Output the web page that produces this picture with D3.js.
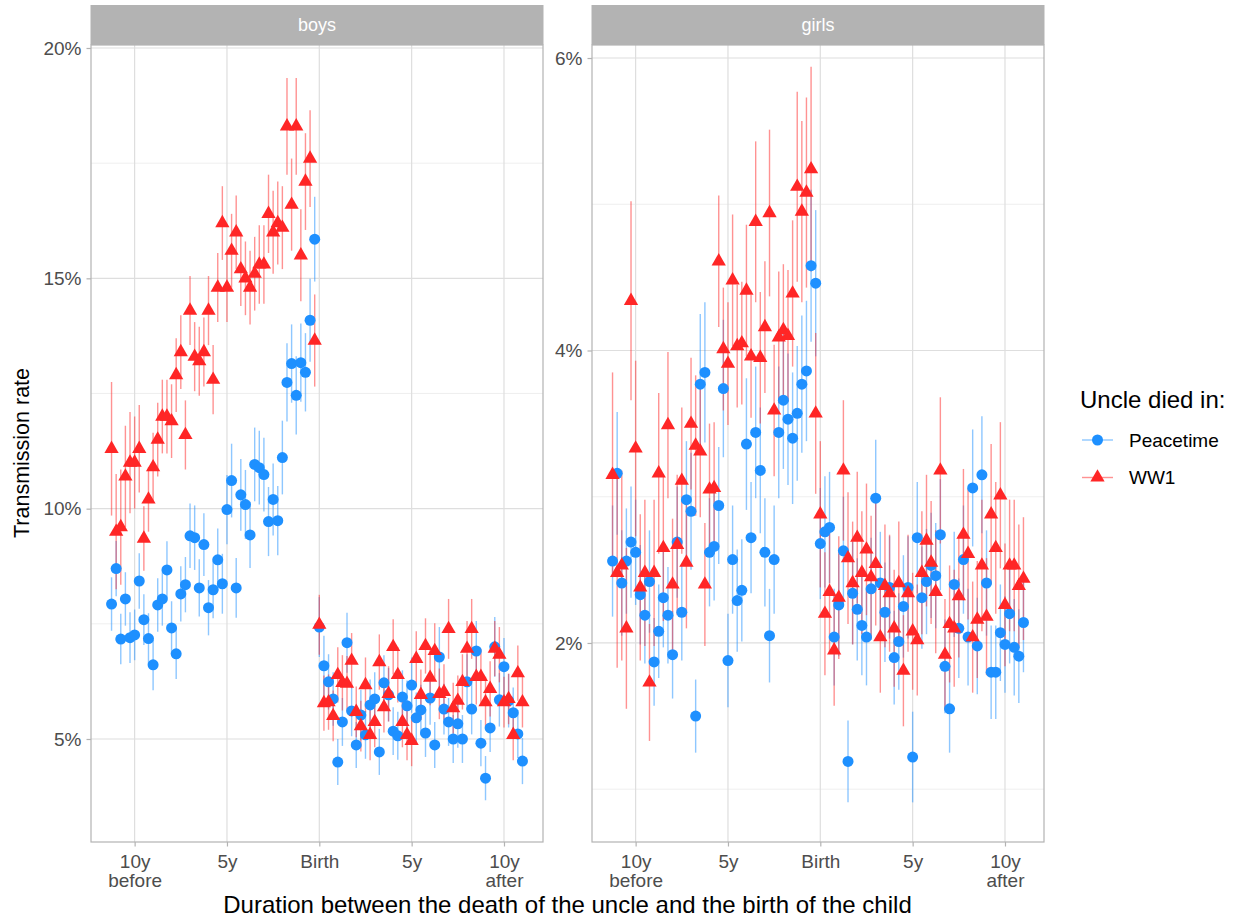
<!DOCTYPE html>
<html>
<head>
<meta charset="utf-8">
<script src="https://cdn.jsdelivr.net/npm/d3@7"></script>
<style>
  body { margin: 0; background: #fff; }
  text { font-family: "Liberation Sans", Arial, sans-serif; }
</style>
</head>
<body>
<div id="chart"></div>
<script>
// quarter offsets from birth (x in years = quarter / 4)
const quarters = d3.range(-45, 45);
const xTicks = [-10, -5, 0, 5, 10];
const xTickLabels = [["10y", "before"], ["5y"], ["Birth"], ["5y"], ["10y", "after"]];

const boysYTicks = [5, 10, 15, 20];
const boysYMinor = [7.5, 12.5, 17.5];
const girlsYTicks = [2, 4, 6];
const girlsYMinor = [1, 3, 5];

const seriesNames = ["Peacetime", "WW1"];

// transmission rate (%), 45 quarters before birth then 45 after
const boysPeace = [
  7.93, 8.70, 7.17, 8.04, 7.20, 7.26, 8.43, 7.59, 7.18, 6.61, 7.91, 8.04, 8.67, 7.41, 6.85,
  8.15, 8.35, 9.41, 9.37, 8.28, 9.22, 7.85, 8.24, 8.89, 8.37, 9.98, 10.61, 8.28, 10.3, 10.09,
  9.43, 10.96, 10.89, 10.74, 9.72, 10.2, 9.74, 11.11, 12.74, 13.15, 12.46, 13.17, 12.96, 14.09, 15.85,
  7.43, 6.59, 6.24, 5.87, 4.5, 5.37, 7.09, 5.61, 4.87, 5.52, 5.09, 5.74, 5.87, 4.72, 6.22,
  5.96, 5.17, 5.07, 5.91, 5.72, 6.17, 5.46, 5.63, 5.13, 5.89, 4.87, 6.78, 5.65, 5.37, 5.0,
  5.33, 5.0, 6.24, 5.65, 6.91, 4.91, 4.15, 5.24, 7.0, 5.85, 6.57, 5.83, 5.57, 5.11, 4.52
];
const boysPeaceErr = [
  0.58, 0.6, 0.55, 0.58, 0.55, 0.55, 0.6, 0.55, 0.55, 0.55, 0.58, 0.58, 0.62, 0.58, 0.55,
  0.6, 0.6, 0.7, 0.7, 0.62, 0.68, 0.6, 0.62, 0.68, 0.65, 0.75, 0.8, 0.65, 0.78, 0.75,
  0.72, 0.8, 0.8, 0.8, 0.75, 0.78, 0.75, 0.8, 0.85, 0.85, 0.85, 0.85, 0.85, 0.9, 0.92,
  0.65, 0.65, 0.6, 0.58, 0.5, 0.52, 0.65, 0.55, 0.5, 0.55, 0.52, 0.55, 0.58, 0.5, 0.6,
  0.58, 0.52, 0.52, 0.58, 0.55, 0.6, 0.55, 0.55, 0.52, 0.58, 0.5, 0.65, 0.55, 0.52, 0.52,
  0.52, 0.52, 0.6, 0.55, 0.65, 0.5, 0.48, 0.52, 0.65, 0.58, 0.62, 0.58, 0.55, 0.52, 0.5
];
const boysWW1 = [
  11.3, 9.5, 9.6, 10.7, 11.0, 11.0, 11.3, 9.35, 10.2, 10.9, 11.5, 12.0, 12.0, 11.9, 12.9,
  13.4, 11.6, 14.3, 13.3, 13.2, 13.4, 14.3, 12.8, 14.8, 16.2, 14.8, 15.6, 16.0, 15.2, 15.0,
  14.8, 15.1, 15.3, 15.3, 16.4, 16.0, 16.2, 16.1, 18.3, 16.6, 18.3, 15.5, 17.1, 17.6, 13.65,
  7.48, 5.78, 5.80, 5.50, 6.39, 6.22, 6.20, 6.70, 5.59, 5.28, 6.17, 5.09, 5.37, 6.67, 5.69,
  5.98, 7.0, 6.39, 5.37, 5.09, 4.96, 6.74, 5.96, 7.02, 6.33, 6.91, 5.98, 6.02, 7.39, 5.67,
  5.83, 6.24, 6.96, 7.39, 6.35, 6.35, 5.80, 6.09, 6.96, 6.83, 5.80, 5.87, 5.09, 6.43, 5.80
];
const boysWW1Err = [
  1.45, 1.25, 1.25, 1.1, 1.1, 1.0, 0.95, 0.7, 0.7, 0.75, 0.8, 0.8, 0.8, 0.8, 0.8,
  0.8, 0.75, 0.75, 0.75, 0.75, 0.75, 0.75, 0.75, 0.75, 0.8, 0.75, 0.8, 0.8, 0.8, 0.8,
  0.8, 0.8, 0.85, 0.85, 0.85, 0.9, 0.9, 0.9, 1.05, 1.0, 1.05, 1.0, 1.05, 1.05, 1.0,
  0.65, 0.6, 0.6, 0.55, 0.6, 0.6, 0.6, 0.6, 0.55, 0.55, 0.6, 0.55, 0.55, 0.6, 0.55,
  0.6, 0.6, 0.6, 0.55, 0.55, 0.55, 0.6, 0.55, 0.6, 0.6, 0.6, 0.55, 0.6, 0.65, 0.55,
  0.55, 0.6, 0.6, 0.65, 0.6, 0.6, 0.55, 0.6, 0.6, 0.6, 0.55, 0.55, 0.55, 0.6, 0.55
];

const girlsPeace = [
  2.56, 3.16, 2.41, 2.56, 2.69, 2.62, 2.33, 2.19, 2.42, 1.87, 2.08, 2.31, 2.19, 1.92, 2.69,
  2.21, 2.98, 2.90, 1.50, 3.77, 3.85, 2.62, 2.66, 2.94, 3.74, 1.88, 2.57, 2.29, 2.36, 3.36,
  2.72, 3.44, 3.18, 2.62, 2.05, 2.57, 3.44, 3.66, 3.53, 3.40, 3.57, 3.77, 3.86, 4.58, 4.46,
  2.68, 2.76, 2.79, 2.04, 2.26, 2.63, 1.19, 2.34, 2.23, 2.12, 2.04, 2.37, 2.99, 2.41, 2.21,
  2.38, 1.90, 2.01, 2.25, 2.38, 1.22, 2.72, 2.31, 2.42, 2.53, 2.46, 2.74, 1.84, 1.55, 2.40,
  2.10, 2.57, 2.04, 3.06, 1.98, 3.15, 2.41, 1.80, 1.80, 2.07, 1.99, 2.20, 1.97, 1.91, 2.14
];
const girlsPeaceErr = [
  0.38, 0.42, 0.36, 0.36, 0.38, 0.36, 0.34, 0.33, 0.35, 0.3, 0.32, 0.34, 0.33, 0.3, 0.38,
  0.33, 0.4, 0.4, 0.25, 0.48, 0.48, 0.37, 0.37, 0.4, 0.47, 0.32, 0.37, 0.35, 0.35, 0.45,
  0.38, 0.45, 0.43, 0.37, 0.32, 0.37, 0.45, 0.47, 0.45, 0.45, 0.46, 0.47, 0.48, 0.52, 0.5,
  0.38, 0.38, 0.38, 0.33, 0.35, 0.37, 0.28, 0.35, 0.35, 0.34, 0.33, 0.35, 0.4, 0.35, 0.34,
  0.35, 0.32, 0.33, 0.35, 0.35, 0.31, 0.38, 0.35, 0.36, 0.36, 0.36, 0.38, 0.32, 0.3, 0.36,
  0.34, 0.37, 0.33, 0.4, 0.33, 0.4, 0.36, 0.32, 0.32, 0.33, 0.33, 0.34, 0.33, 0.32, 0.34
];
const girlsWW1 = [
  3.15, 2.48, 2.53, 2.10, 4.34, 3.33, 2.38, 2.48, 1.73, 2.48, 3.16, 2.65, 3.49, 2.40, 2.67,
  3.11, 2.55, 3.50, 3.35, 3.31, 2.40, 3.05, 3.06, 4.61, 4.01, 3.91, 4.48, 4.03, 4.05, 4.41,
  3.96, 4.88, 3.95, 4.16, 4.94, 3.59, 4.09, 4.14, 4.10, 4.39, 5.12, 4.95, 5.08, 5.24, 3.57,
  2.88, 2.20, 2.35, 1.95, 2.31, 3.18, 2.58, 2.41, 2.72, 2.48, 2.64, 2.45, 2.54, 2.04, 2.39,
  2.34, 2.10, 2.41, 1.81, 2.34, 2.08, 2.02, 2.48, 2.70, 2.55, 2.35, 3.18, 1.92, 2.13, 2.10,
  2.32, 2.74, 2.61, 2.04, 2.16, 2.53, 2.18, 2.88, 2.65, 3.01, 2.26, 2.53, 2.53, 2.39, 2.44
];
const girlsWW1Err = [
  0.7, 0.65, 0.65, 0.55, 0.68, 0.6, 0.5, 0.5, 0.4, 0.5, 0.55, 0.5, 0.5, 0.45, 0.48,
  0.5, 0.45, 0.45, 0.48, 0.45, 0.42, 0.45, 0.45, 0.45, 0.42, 0.42, 0.45, 0.42, 0.42, 0.45,
  0.42, 0.55, 0.45, 0.45, 0.57, 0.45, 0.45, 0.45, 0.45, 0.5, 0.65, 0.62, 0.65, 0.7, 0.55,
  0.5, 0.42, 0.42, 0.38, 0.42, 0.48, 0.45, 0.42, 0.45, 0.42, 0.45, 0.42, 0.42, 0.38, 0.42,
  0.4, 0.4, 0.42, 0.38, 0.4, 0.4, 0.38, 0.42, 0.45, 0.42, 0.42, 0.5, 0.38, 0.4, 0.4,
  0.42, 0.45, 0.45, 0.38, 0.4, 0.45, 0.4, 0.48, 0.45, 0.5, 0.42, 0.45, 0.45, 0.42, 0.42
];

// layout
const width = 1238, height = 924;
const panelW = 452, panelTop = 45, panelBottom = 842, stripTop = 5;
const blue = "#1e90ff", red = "#ff2626";
const gridCol = "#dedede", borderCol = "#b3b3b3", tickTextCol = "#4d4d4d";

const facets = [
  { label: "boys", left: 91, yDomain: [2.764, 20.065], yTicks: boysYTicks, yMinor: boysYMinor,
    series: [[boysPeace, boysPeaceErr], [boysWW1, boysWW1Err]] },
  { label: "girls", left: 592, yDomain: [0.639, 6.089], yTicks: girlsYTicks, yMinor: girlsYMinor,
    series: [[girlsPeace, girlsPeaceErr], [girlsWW1, girlsWW1Err]] }
];
const colors = [blue, red];

const svg = d3.select("#chart").append("svg")
  .attr("width", width)
  .attr("height", height);

const triangle = d3.symbol(d3.symbolTriangle).size(88);

facets.forEach((f, k) => {
  const x = d3.scaleLinear()
    .domain([-12.3625, 12.1125])
    .range([f.left, f.left + panelW]);
  const y = d3.scaleLinear()
    .domain(f.yDomain)
    .range([panelBottom, panelTop]);

  svg.append("clipPath").attr("id", "clip" + k)
    .append("rect")
    .attr("x", f.left).attr("y", panelTop)
    .attr("width", panelW).attr("height", panelBottom - panelTop);

  const g = svg.append("g");
  const plot = g.append("g").attr("clip-path", `url(#clip${k})`);

  // grid
  plot.selectAll(".ymin").data(f.yMinor).join("line")
    .attr("x1", f.left).attr("x2", f.left + panelW)
    .attr("y1", d => y(d)).attr("y2", d => y(d))
    .attr("stroke", "#ebebeb").attr("stroke-width", 0.8);
  plot.selectAll(".ymaj").data(f.yTicks).join("line")
    .attr("x1", f.left).attr("x2", f.left + panelW)
    .attr("y1", d => y(d)).attr("y2", d => y(d))
    .attr("stroke", gridCol).attr("stroke-width", 1.2);
  plot.selectAll(".xmaj").data(xTicks).join("line")
    .attr("x1", d => x(d)).attr("x2", d => x(d))
    .attr("y1", panelTop).attr("y2", panelBottom)
    .attr("stroke", gridCol).attr("stroke-width", 1.2);

  // error bars
  f.series.forEach(([vals, errs], s) => {
    plot.append("g").selectAll("line").data(quarters).join("line")
      .attr("x1", (q) => x(q / 4)).attr("x2", (q) => x(q / 4))
      .attr("y1", (q, i) => y(vals[i] - errs[i]))
      .attr("y2", (q, i) => y(vals[i] + errs[i]))
      .attr("stroke", colors[s])
      .attr("stroke-opacity", 0.5)
      .attr("stroke-width", 1.4);
  });

  // points
  plot.append("g").selectAll("circle").data(quarters).join("circle")
    .attr("cx", q => x(q / 4))
    .attr("cy", (q, i) => y(f.series[0][0][i]))
    .attr("r", 5.5)
    .attr("fill", blue);
  plot.append("g").selectAll("path").data(quarters).join("path")
    .attr("d", triangle)
    .attr("transform", (q, i) => `translate(${x(q / 4)},${y(f.series[1][0][i])})`)
    .attr("fill", red);

  // panel border
  g.append("rect")
    .attr("x", f.left).attr("y", panelTop)
    .attr("width", panelW).attr("height", panelBottom - panelTop)
    .attr("fill", "none").attr("stroke", borderCol).attr("stroke-width", 1.2);

  // strip
  g.append("rect")
    .attr("x", f.left - 0.5).attr("y", stripTop)
    .attr("width", panelW + 1).attr("height", panelTop - stripTop)
    .attr("fill", borderCol);
  g.append("text")
    .attr("x", f.left + panelW / 2).attr("y", 31)
    .attr("text-anchor", "middle")
    .attr("fill", "#fff").attr("font-size", 18)
    .text(f.label);

  // axes
  const gy = g.append("g")
    .attr("transform", `translate(${f.left},0)`)
    .call(d3.axisLeft(y).tickValues(f.yTicks).tickFormat(d => d + "%").tickSize(4.5).tickPadding(5));
  gy.select(".domain").remove();
  gy.selectAll(".tick line").attr("stroke", borderCol).attr("stroke-width", 1.2);
  gy.selectAll(".tick text")
    .attr("fill", tickTextCol)
    .attr("font-size", 19)
    .attr("font-family", "Liberation Sans, Arial, sans-serif");

  const gx = g.append("g")
    .attr("transform", `translate(0,${panelBottom})`)
    .call(d3.axisBottom(x).tickValues(xTicks).tickFormat("").tickSize(4.5).tickPadding(8));
  gx.select(".domain").remove();
  gx.selectAll(".tick line").attr("stroke", borderCol).attr("stroke-width", 1.2);
  gx.selectAll(".tick text")
    .attr("fill", tickTextCol)
    .attr("font-size", 19)
    .attr("font-family", "Liberation Sans, Arial, sans-serif")
    .each(function (d, i) {
      const t = d3.select(this);
      xTickLabels[i].forEach((s, j) => {
        t.append("tspan").attr("x", 0).attr("dy", j ? "0.98em" : "0.71em").text(s);
      });
    });
});

// axis titles
svg.append("text")
  .attr("x", (91 + 592 + panelW) / 2).attr("y", 913)
  .attr("text-anchor", "middle")
  .attr("font-size", 24)
  .attr("fill", "#000")
  .text("Duration between the death of the uncle and the birth of the child");

svg.append("text")
  .attr("transform", "translate(29,453) rotate(-90)")
  .attr("text-anchor", "middle")
  .attr("font-size", 21.5)
  .attr("fill", "#000")
  .text("Transmission rate");

// legend
const legend = svg.append("g");
legend.append("text")
  .attr("x", 1080).attr("y", 408)
  .attr("font-size", 24)
  .attr("fill", "#000")
  .text("Uncle died in:");

seriesNames.forEach((name, i) => {
  const ly = 440 + i * 37.5;
  legend.append("line")
    .attr("x1", 1082).attr("x2", 1113)
    .attr("y1", ly).attr("y2", ly)
    .attr("stroke", colors[i]).attr("stroke-opacity", 0.5).attr("stroke-width", 1.4);
  if (i === 0) {
    legend.append("circle").attr("cx", 1097.5).attr("cy", ly).attr("r", 5.5).attr("fill", blue);
  } else {
    legend.append("path").attr("d", triangle).attr("transform", `translate(1097.5,${ly})`).attr("fill", red);
  }
  legend.append("text")
    .attr("x", 1129).attr("y", ly + 6.5)
    .attr("font-size", 19)
    .attr("fill", "#000")
    .text(name);
});
</script>
</body>
</html>
